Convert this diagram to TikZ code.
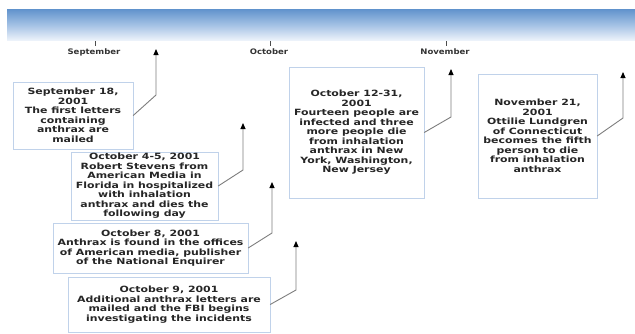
\documentclass[tikz,border=0pt]{standalone}
\usepackage{fontspec}
\setmainfont{DejaVu Sans}
\newfontfamily\evfont[FakeStretch=1.27]{DejaVu Sans}
\newfontfamily\mofont[FakeStretch=1.12]{DejaVu Sans}
\usepackage{xcolor}
\usepackage{tikz}
\usetikzlibrary{arrows.meta}
\usetikzlibrary{positioning}
\definecolor{boxline}{RGB}{192,210,234}
\definecolor{barTop}{RGB}{96,146,204}
\definecolor{barMid}{RGB}{162,192,228}
\definecolor{barBot}{RGB}{236,242,250}
\definecolor{linkgray}{RGB}{125,125,125}
\tikzset{
    event/.style={
        draw=boxline,
        fill=white,
        align=center,
        inner sep=1pt,
        text=black!85,
        font=\evfont\bfseries\fontsize{8.6}{9.5}\selectfont
    },
    month/.style={
        text=black!80,
        font=\mofont\bfseries\fontsize{7.6}{9}\selectfont
    },
    link/.style={
        draw=linkgray,
        line width=0.9pt,
        -{Triangle[black, length=6pt, width=5pt]}
    }
}

\begin{document}
\begin{tikzpicture}[x=1pt, y=-1pt]
    \useasboundingbox (0,0) rectangle (635,333);
    % Time bar
    \shade[top color=barTop, bottom color=barBot, middle color=barMid]
        (7,9) rectangle (635,40);
    \foreach \mx/\mname/\mlab in {95/sep/September, 270/oct/October, 446/nov/November} {
        \draw[black!70, line width=0.8pt] (\mx,41) -- (\mx,46);
        \node[month] (\mname) at (\mx-1,52) {\mlab};
    }

    % Events
    \node[event, minimum width=120pt, minimum height=67pt] (ev1) at (73,115.5)
        {September 18,\\2001\\The first letters\\containing\\anthrax are\\mailed};
    \node[event, minimum width=147pt, minimum height=68pt] (ev2) at (144.5,186)
        {October 4-5, 2001\\Robert Stevens from\\American Media in\\Florida in hospitalized\\with inhalation\\anthrax and dies the\\following day};
    \node[event, minimum width=195pt, minimum height=50pt] (ev3) at (150.5,248)
        {October 8, 2001\\Anthrax is found in the offices\\of American media, publisher\\of the National Enquirer};
    \node[event, minimum width=202pt, minimum height=55pt] (ev4) at (169,304.5)
        {October 9, 2001\\Additional anthrax letters are\\mailed and the FBI begins\\investigating the incidents};
    \node[event, minimum width=135pt, minimum height=131pt] (ev5) at (356.5,132.5)
        {October 12-31,\\2001\\Fourteen people are\\infected and three\\more people die\\from inhalation\\anthrax in New\\York, Washington,\\New Jersey};
    \node[event, minimum width=119pt, minimum height=124pt] (ev6) at (537.5,136)
        {November 21,\\2001\\Ottilie Lundgren\\of Connecticut\\becomes the fifth\\person to die\\from inhalation\\anthrax};

    % Bends and tips of the pointers
    \coordinate (k1) at (156,95);  \coordinate (t1) at (156,49);
    \coordinate (k2) at (243,170); \coordinate (t2) at (243,123);
    \coordinate (k3) at (272,233); \coordinate (t3) at (272,182);
    \coordinate (k4) at (296,290); \coordinate (t4) at (296,241);
    \coordinate (k5) at (451,117); \coordinate (t5) at (451,69);
    \coordinate (k6) at (623,118); \coordinate (t6) at (623,72);

    % Pointers
    \draw[link] (ev1.east) -- (k1) -- (t1);
    \draw[link] (ev2.east) -- (k2) -- (t2);
    \draw[link] (ev3.east) -- (k3) -- (t3);
    \draw[link] (ev4.east) -- (k4) -- (t4);
    \draw[link] (ev5.east) -- (k5) -- (t5);
    \draw[link] (ev6.east) -- (k6) -- (t6);
\end{tikzpicture}
\end{document}
